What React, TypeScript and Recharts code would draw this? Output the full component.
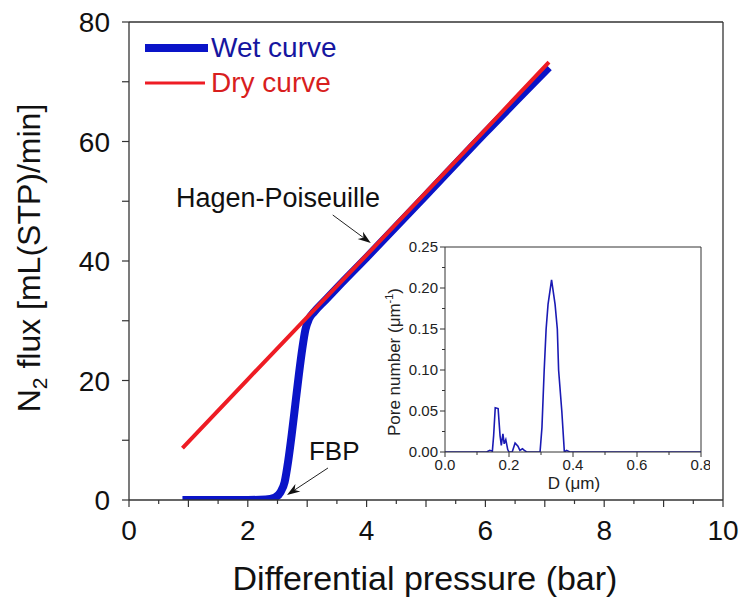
import React from 'react';
import { LineChart, Line, XAxis, YAxis, ReferenceLine, ReferenceDot } from 'recharts';

const FONT = '"Liberation Sans", Arial, Helvetica, sans-serif';
const AXIS = '#333';

// Wet curve: N2 flux [mL(STP)/min] against differential pressure [bar]
const wetPressure = [0.9, 1.5, 2.0, 2.3, 2.45, 2.55, 2.62, 2.68, 2.74, 2.8, 2.86, 2.92, 2.97, 3.03, 3.12, 3.3, 3.5, 4.0, 5.0, 6.0, 7.07];
const wetFlux = [0, 0, 0, 0.1, 0.4, 1.3, 3, 6.5, 11, 16, 21, 25.5, 28.5, 30.3, 31.5, 33.4, 35.5, 40.6, 51.0, 61.5, 72.4];

// Dry curve
const dryPressure = [0.9, 2, 3, 4, 5, 6, 7.07];
const dryFlux = [8.7, 20.2, 30.6, 41.0, 51.5, 62.0, 73.3];

// Main axes ticks
const xTicks = [0, 0.5, 1, 1.5, 2, 2.5, 3, 3.5, 4, 4.5, 5, 5.5, 6, 6.5, 7, 7.5, 8, 8.5, 9, 9.5, 10];
const xLabels = [0, 2, 4, 6, 8, 10];
const yTicks = [0, 10, 20, 30, 40, 50, 60, 70, 80];
const yLabels = [0, 20, 40, 60, 80];

// Pore size distribution (inset)
const poreD = [0, 0.13, 0.14, 0.148, 0.152, 0.157, 0.166, 0.172, 0.176, 0.181, 0.185, 0.19, 0.196, 0.2, 0.21, 0.219, 0.228, 0.234, 0.242, 0.248, 0.255, 0.297, 0.303, 0.31, 0.316, 0.322, 0.333, 0.344, 0.351, 0.355, 0.365, 0.373, 0.38, 0.39, 0.8];
const poreN = [0, 0, 0.002, 0.001, 0.02, 0.054, 0.053, 0.02, 0.008, 0.022, 0.01, 0.015, 0.003, 0, 0, 0.011, 0.007, 0.002, 0.004, 0.002, 0, 0, 0.03, 0.10, 0.15, 0.18, 0.21, 0.18, 0.15, 0.10, 0.05, 0, 0.002, 0, 0];

const insetXTicks = [0, 0.1, 0.2, 0.3, 0.4, 0.5, 0.6, 0.7, 0.8];
const insetXLabels = ['0.0', '0.2', '0.4', '0.6', '0.8'];
const insetYTicks = [0, 0.025, 0.05, 0.075, 0.1, 0.125, 0.15, 0.175, 0.2, 0.225, 0.25];
const insetYLabels = ['0.00', '0.05', '0.10', '0.15', '0.20', '0.25'];

const wetData = wetPressure.map((p, i) => ({ p, flux: wetFlux[i] }));
const dryData = dryPressure.map((p, i) => ({ p, flux: dryFlux[i] }));
const poreData = poreD.map((d, i) => ({ d, n: poreN[i] }));

function MainXTick(props: any) {
  const { x, y, payload } = props;
  const v = payload.value as number;
  const major = Number.isInteger(v);
  return (
    <g>
      <line x1={x} x2={x} y1={y} y2={y + (major ? 7 : 4)} stroke={AXIS} strokeWidth={1.2} />
      {xLabels.includes(v) && (
        <text x={x} y={y + 40} textAnchor="middle" fontSize={28} fontFamily={FONT} fill="#111">
          {v}
        </text>
      )}
    </g>
  );
}

function MainYTick(props: any) {
  const { x, y, payload } = props;
  const v = payload.value as number;
  return (
    <g>
      <line x1={x} x2={x - 7} y1={y} y2={y} stroke={AXIS} strokeWidth={1.2} />
      {yLabels.includes(v) && (
        <text x={x - 19} y={y} dy="0.36em" textAnchor="end" fontSize={28} fontFamily={FONT} fill="#111">
          {v}
        </text>
      )}
    </g>
  );
}

function InsetXTick(props: any) {
  const { x, y, payload } = props;
  const v = payload.value as number;
  const label = v.toFixed(1);
  const labeled = insetXLabels.includes(label);
  return (
    <g>
      <line x1={x} x2={x} y1={y} y2={y + (labeled ? 5 : 3)} stroke={AXIS} strokeWidth={1} />
      {labeled && (
        <text x={x} y={y + 18} textAnchor="middle" fontSize={15} fontFamily={FONT} fill="#222">
          {label}
        </text>
      )}
    </g>
  );
}

function InsetYTick(props: any) {
  const { x, y, payload } = props;
  const v = payload.value as number;
  const label = v.toFixed(2);
  const labeled = insetYLabels.includes(label) && Math.abs(v * 20 - Math.round(v * 20)) < 1e-6;
  return (
    <g>
      <line x1={x} x2={x - (labeled ? 5 : 3)} y1={y} y2={y} stroke={AXIS} strokeWidth={1} />
      {labeled && (
        <text x={x - 7} y={y} dy="0.36em" textAnchor="end" fontSize={15} fontFamily={FONT} fill="#222">
          {label}
        </text>
      )}
    </g>
  );
}

function Arrow(props: any) {
  const { x1, y1, x2, y2 } = props;
  const ang = Math.atan2(y2 - y1, x2 - x1);
  const c = Math.cos(ang);
  const s = Math.sin(ang);
  const L = 13;
  const W = 4.5;
  const bx = x2 - L * c;
  const by = y2 - L * s;
  const nx = x2 - 0.7 * L * c;
  const ny = y2 - 0.7 * L * s;
  const pts = `${x2},${y2} ${bx - s * W},${by + c * W} ${nx},${ny} ${bx + s * W},${by - c * W}`;
  return (
    <g>
      <line x1={x1} y1={y1} x2={nx} y2={ny} stroke="#222" strokeWidth={1} />
      <polygon points={pts} fill="#111" />
    </g>
  );
}

function makeLabel(text: string, size: number) {
  return (props: any) => (
    <text x={props.cx} y={props.cy} fontSize={size} fontFamily={FONT} fill="#111">
      {text}
    </text>
  );
}

export default function App() {
  return (
    <div style={{ position: 'absolute', left: 0, top: 0, width: 739, height: 597, background: '#fff', fontFamily: FONT }}>
      <LineChart width={739} height={597} data={wetData} margin={{ top: 22, right: 16, bottom: 0, left: 0 }}>
        <XAxis
          dataKey="p"
          type="number"
          domain={[0, 10]}
          ticks={xTicks}
          interval={0}
          height={97}
          tickSize={0}
          tickMargin={0}
          tickLine={false}
          tick={MainXTick}
          axisLine={{ stroke: AXIS, strokeWidth: 1.3 }}
          allowDataOverflow
        />
        <YAxis
          type="number"
          domain={[0, 80]}
          ticks={yTicks}
          interval={0}
          width={129}
          tickSize={0}
          tickMargin={0}
          tickLine={false}
          tick={MainYTick}
          axisLine={{ stroke: AXIS, strokeWidth: 1.3 }}
          allowDataOverflow
        />
        <ReferenceLine y={80} stroke={AXIS} strokeWidth={1.3} ifOverflow="visible" />
        <ReferenceLine x={10} stroke={AXIS} strokeWidth={1.3} ifOverflow="visible" />
        <Line
          data={wetData}
          dataKey="flux"
          type="monotone"
          stroke="#0a14c8"
          strokeWidth={8}
          strokeLinecap="butt"
          dot={false}
          activeDot={false}
          isAnimationActive={false}
        />
        <Line
          data={dryData}
          dataKey="flux"
          type="linear"
          stroke="#ee1c24"
          strokeWidth={4}
          strokeLinecap="butt"
          dot={false}
          activeDot={false}
          isAnimationActive={false}
        />
        <ReferenceLine
          segment={[{ x: 3.43, y: 47.7 }, { x: 4.07, y: 43.0 }]}
          shape={Arrow}
          ifOverflow="visible"
        />
        <ReferenceLine
          segment={[{ x: 3.35, y: 5.36 }, { x: 2.66, y: 0.84 }]}
          shape={Arrow}
          ifOverflow="visible"
        />
        <ReferenceDot x={0.79} y={49} r={0} shape={makeLabel('Hagen-Poiseuille', 27)} ifOverflow="visible" />
        <ReferenceDot x={3.03} y={6.7} r={0} shape={makeLabel('FBP', 26)} ifOverflow="visible" />
      </LineChart>

      <svg width={739} height={597} style={{ position: 'absolute', left: 0, top: 0, pointerEvents: 'none' }}>
        {/* legend */}
        <line x1={145} x2={208} y1={48} y2={48} stroke="#0a14c8" strokeWidth={8} />
        <text x={211} y={57} fontSize={28} fontFamily={FONT} fill="#1616a0">Wet curve</text>
        <line x1={145} x2={205} y1={83} y2={83} stroke="#ee1c24" strokeWidth={3} />
        <text x={211} y={92} fontSize={28} fontFamily={FONT} fill="#d81e1e">Dry curve</text>
        {/* axis titles */}
        <text x={425} y={590} textAnchor="middle" fontSize={34} fontFamily={FONT} fill="#111">
          Differential pressure (bar)
        </text>
        <text transform="translate(40,258) rotate(-90)" textAnchor="middle" fontSize={32} fontFamily={FONT} fill="#111">
          N<tspan fontSize={21} dy={7}>2</tspan>
          <tspan dy={-7}> flux [mL(STP)/min]</tspan>
        </text>
        {/* inset titles */}
        <text x={574} y={489} textAnchor="middle" fontSize={17} fontFamily={FONT} fill="#222">
          D (μm)
        </text>
        <text transform="translate(400,362) rotate(-90)" textAnchor="middle" fontSize={17} fontFamily={FONT} fill="#222">
          Pore number (μm<tspan fontSize={11} dy={-7}>-1</tspan>
          <tspan dy={7}>)</tspan>
        </text>
      </svg>

      <div style={{ position: 'absolute', left: 380, top: 235 }}>
        <LineChart width={330} height={260} data={poreData} margin={{ top: 12, right: 9, bottom: 0, left: 0 }}>
          <XAxis
            dataKey="d"
            type="number"
            domain={[0, 0.8]}
            ticks={insetXTicks}
            interval={0}
            height={43}
            tickSize={0}
            tickMargin={0}
            tickLine={false}
            tick={InsetXTick}
            axisLine={{ stroke: AXIS, strokeWidth: 1 }}
            allowDataOverflow
          />
          <YAxis
            type="number"
            domain={[0, 0.25]}
            ticks={insetYTicks}
            interval={0}
            width={65}
            tickSize={0}
            tickMargin={0}
            tickLine={false}
            tick={InsetYTick}
            axisLine={{ stroke: AXIS, strokeWidth: 1 }}
            allowDataOverflow
          />
          <ReferenceLine y={0.25} stroke={AXIS} strokeWidth={1} ifOverflow="visible" />
          <ReferenceLine x={0.8} stroke={AXIS} strokeWidth={1} ifOverflow="visible" />
          <Line
            dataKey="n"
            type="linear"
            stroke="#1a1ab4"
            strokeWidth={1.6}
            dot={false}
            activeDot={false}
            isAnimationActive={false}
          />
        </LineChart>
      </div>
    </div>
  );
}
